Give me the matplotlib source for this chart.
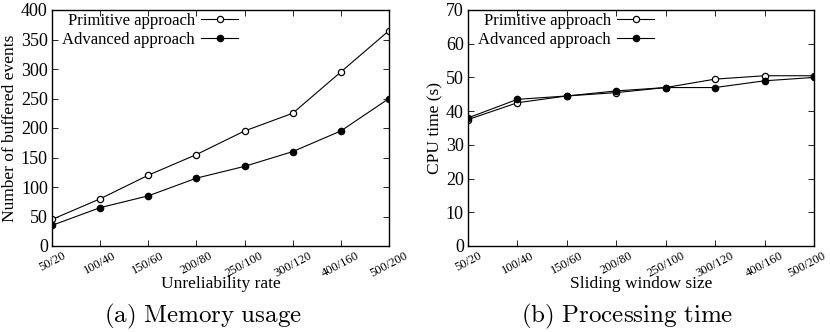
import matplotlib
matplotlib.use("Agg")
import matplotlib.pyplot as plt
import matplotlib.transforms as mtransforms

# x categories (shared by both panels)
rates = ["50/20", "100/40", "150/60", "200/80", "250/100", "300/120", "400/160", "500/200"]

# (a) memory usage
mem_primitive = [45, 80, 120, 155, 195, 225, 295, 365]
mem_advanced = [35, 65, 85, 115, 135, 160, 195, 250]

# (b) processing time
cpu_primitive = [37.5, 42.5, 44.5, 45.5, 47, 49.5, 50.5, 50.5]
cpu_advanced = [38, 43.5, 44.5, 46, 47, 47, 49, 50]

plt.rcParams["font.family"] = ["Liberation Serif", "DejaVu Serif"]
plt.rcParams["mathtext.fontset"] = "cm"

fig = plt.figure(figsize=(8.3, 3.32), dpi=100)
ax1 = fig.add_axes([52 / 830, 1 - 246 / 332, 337 / 830, 236 / 332])
ax2 = fig.add_axes([468 / 830, 1 - 246 / 332, 346 / 830, 236 / 332])


def draw(ax, prim, adv, ymax, ystep, ylabel, xlabel):
    x = range(len(rates))
    ax.plot(x, prim, "-o", color="black", lw=0.8, ms=4.5, mfc="white",
            mec="black", mew=0.9, label="Primitive approach")
    ax.plot(x, adv, "-o", color="black", lw=0.8, ms=4.5, mfc="black",
            label="Advanced approach")
    ax.set_xlim(0, len(rates) - 1)
    ax.set_ylim(0, ymax)
    ax.set_yticks(range(0, ymax + 1, ystep))
    ax.set_xticks(list(x))
    ax.set_xticklabels(rates, rotation=28, ha="center")
    ax.tick_params(direction="in", top=True, right=True, length=4, width=0.6,
                   labelsize=13, pad=3)
    ax.tick_params(axis="x", labelsize=9, pad=3)
    for s in ax.spines.values():
        s.set_linewidth(1.0)
    ax.set_ylabel(ylabel, fontsize=12.5, labelpad=2)
    ax.set_xlabel(xlabel, fontsize=12.5, labelpad=-3)
    ax.legend(loc="upper left", frameon=False, markerfirst=False, fontsize=12,
              handlelength=2.2, handletextpad=0.4, borderaxespad=0.2,
              labelspacing=0.2, bbox_to_anchor=(0.0, 1.03))


draw(ax1, mem_primitive, mem_advanced, 400, 50,
     "Number of buffered events", "Unreliability rate")
draw(ax2, cpu_primitive, cpu_advanced, 70, 10,
     "CPU time (s)", "Sliding window size")

# keep the last label of the right panel inside the picture
last = ax2.get_xticklabels()[-1]
last.set_transform(last.get_transform() +
                   mtransforms.ScaledTranslation(-5 / 72, 0, fig.dpi_scale_trans))

fig.text(0.245, 0.03, r"$\mathrm{(a)\ Memory\ usage}$", fontsize=18, ha="center")
fig.text(0.755, 0.03, r"$\mathrm{(b)\ Processing\ time}$", fontsize=18, ha="center")

fig.savefig("out.png", dpi=100)
